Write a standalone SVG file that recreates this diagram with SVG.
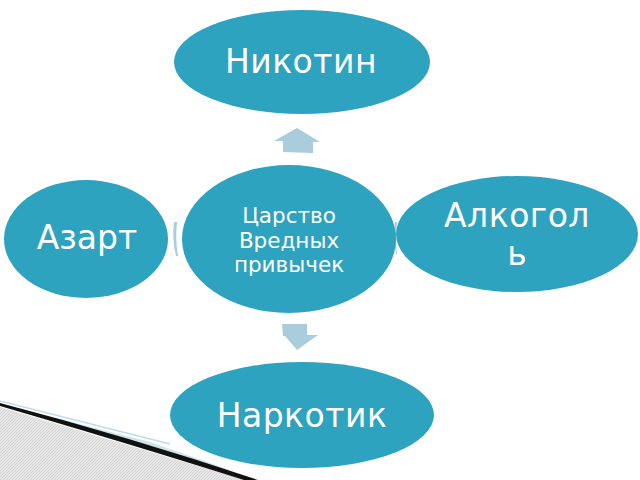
<svg xmlns="http://www.w3.org/2000/svg" width="640" height="480" viewBox="0 0 640 480">
<defs>
<style>
.node{fill:#2EA3C0;}
.lbl{fill:#FFFFFF;font-family:"DejaVu Sans","Noto Sans",sans-serif;text-anchor:middle;}
.arr{fill:#A9CDDC;}
</style>
<pattern id="hatch" width="3" height="3" patternUnits="userSpaceOnUse">
<rect width="3" height="3" fill="#E6E6E6"/>
<path d="M0,3 L3,0" stroke="#C8C8C8" stroke-width="0.6"/>
</pattern>
</defs>
<rect width="640" height="480" fill="#FFFFFF"/>
<g id="decor">
<polygon points="0,407 245,480 0,480" fill="url(#hatch)"/>
<path d="M0,401 L170,444" stroke="#BFDCE8" stroke-width="1.5" fill="none"/>
<path d="M60,419 L150,442 L230,470 L230,474 L150,449 L60,423 Z" fill="#CFE3EC"/>
<path d="M0,403 Q130,437 258,480 L244,480 Q130,444 0,406 Z" fill="#111111"/>
</g>
<g id="connectors">
<polygon class="arr" points="297,128 320,142 313,142 313,153 283,152 283,141 274,141"/>
<polygon class="arr" points="282,324 307,324 307,335 318,335 297,350 285,336 283,336"/>
<path class="arr" d="M174,222 Q172,239 176,256 L178,256 Q175,239 177,222 Z"/>
<path class="arr" d="M395,222 Q393,238 396,254 L397,254 Q395,238 397,222 Z"/>
</g>
<g id="n-nikotin">
<ellipse class="node" cx="302" cy="62" rx="128" ry="52"/>
<text class="lbl" x="301" y="73" font-size="33" letter-spacing="0.5">Никотин</text>
</g>
<g id="n-center">
<ellipse class="node" cx="289" cy="239" rx="107" ry="74"/>
<text class="lbl" x="289" y="223" font-size="21.5">Царство</text>
<text class="lbl" x="289" y="248" font-size="21.5">Вредных</text>
<text class="lbl" x="289" y="272" font-size="21.5">привычек</text>
</g>
<g id="n-azart">
<ellipse class="node" cx="86" cy="239" rx="82" ry="59"/>
<text class="lbl" x="87" y="249" font-size="33">Азарт</text>
</g>
<g id="n-alkogol">
<ellipse class="node" cx="517" cy="234" rx="121" ry="58"/>
<text class="lbl" x="517" y="227" font-size="33" letter-spacing="0.5">Алкогол</text>
<text class="lbl" x="517" y="265" font-size="33">ь</text>
</g>
<g id="n-narkotik">
<ellipse class="node" cx="302" cy="415" rx="132" ry="53"/>
<text class="lbl" x="302" y="427" font-size="33" letter-spacing="0.5">Наркотик</text>
</g>
</svg>
